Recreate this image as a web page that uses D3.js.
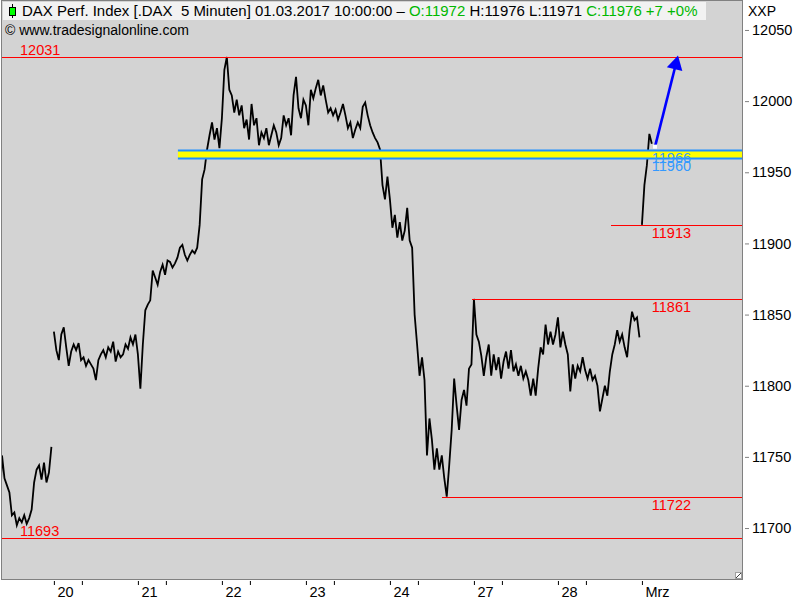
<!DOCTYPE html>
<html><head><meta charset="utf-8">
<script src="https://cdn.jsdelivr.net/npm/d3@7"></script>
<style>
body{margin:0;background:#fff}
svg{display:block}
text{font-family:"Liberation Sans",Arial,sans-serif;}
</style>
</head><body>
<svg id="c" width="800" height="600"></svg>
<script>
// ---------- data ----------
const dayLabels = ['17','20','21','22','23','24','27','28','Mrz'];
const slotsPerDay = 34;              // 15-minute samples, 9:00 - 17:30
const firstSample = [12,0,0,0,0,0,0,0,0];
const p17 = [11706,11751,11735,11730,11725,11709,11711,11702,11707,11704,11709,11703,11707,11713,11732,11741,11744,11734,11746,11732,11739,11757];
const p20 = [11838,11825,11818,11836,11841,11827,11814,11824,11829,11825,11830,11818,11820,11814,11818,11815,11812,11804,11818,11822,11825,11820,11827,11824,11831,11817,11824,11820,11822,11829,11826,11834,11829,11836];
const p21 = [11822,11798,11829,11853,11857,11860,11881,11876,11871,11880,11885,11878,11888,11887,11883,11886,11890,11897,11899,11892,11888,11892,11895,11893,11897,11913,11945,11952,11966,11976,11985,11973,11981,11967];
const p22 = [11988,12022,12031,12008,12004,11992,12001,11990,11997,11981,11987,11973,11998,11983,11988,11969,11978,11974,11981,11969,11976,11983,11978,11969,11974,11990,11983,11988,11976,12004,12017,11995,11988,12001];
const p23 = [11997,11983,12008,12002,12009,12015,12004,12011,12001,11992,11995,11990,11994,11987,11992,11998,11990,11981,11985,11974,11980,11985,11981,11996,11999,11990,11983,11978,11974,11971,11966,11941,11931,11947];
const p24 = [11931,11911,11920,11904,11915,11902,11909,11925,11902,11897,11850,11829,11807,11820,11804,11751,11777,11762,11741,11756,11741,11751,11735,11722,11744,11769,11805,11786,11769,11790,11797,11786,11812,11815];
const p27 = [11861,11836,11831,11821,11807,11820,11829,11807,11822,11811,11820,11805,11817,11824,11812,11825,11810,11815,11807,11814,11805,11810,11804,11793,11805,11793,11812,11827,11822,11843,11829,11838,11829,11836];
const p28 = [11848,11827,11838,11829,11822,11796,11815,11805,11814,11810,11820,11811,11805,11812,11804,11807,11800,11782,11791,11800,11793,11810,11822,11829,11839,11831,11836,11827,11820,11839,11852,11846,11848,11834];
const pMrz = [11913,11941,11955,11977,11970];
const dayValues = [p17,p20,p21,p22,p23,p24,p27,p28,pMrz];
const lineGroups = [['17'], ['20','21','22','23','24','27','28'], ['Mrz']];

const priceTicks = [11700,11750,11800,11850,11900,11950,12000,12050];
const levelPrices = [12031, 11693, 11913, 11861, 11722];
const levelStartDay = [null, null, '28', '24', '24'];
const levelStartSample = [null, null, 21.5, 33.2, 21];
const levelLabelSide = ['left','left','right','right','right'];
const bandPrices = [11960, 11966];
const bandStart = ['21', 16.2];
const arrowFrom = ['Mrz', 5.3, 11968];
const arrowTo = ['Mrz', 14.6, 12032];
const minorTickSample = 11.33;

const headerParts = [
  ['DAX Perf. Index [.DAX  5 Minuten] 01.03.2017 10:00:00 \u2013 ', '#000'],
  ['O:11972', '#00b800'],
  [' H:11976 L:11971 ', '#000'],
  ['C:11976 +7 +0%', '#00b800']
];

// ---------- layout ----------
const svg = d3.select('#c');
const L = 2, R = 742, T = 2, B = 579;
const slotOf = (day, j) => (dayLabels.indexOf(day) - 1) * slotsPerDay + j;
const x = d3.scaleLinear().domain([-21, 278.5]).range([L, R]);
const y = d3.scaleLinear().domain([11693, 12031]).range([538, 57]);

svg.append('rect').attr('x',0).attr('y',0).attr('width',800).attr('height',600).attr('fill','#fff');
svg.append('rect').attr('x',L).attr('y',T-1).attr('width',R-L).attr('height',B-T+1).attr('fill','#d3d3d3');

svg.append('defs').append('clipPath').attr('id','clip')
  .append('rect').attr('x',L).attr('y',T).attr('width',R-L).attr('height',B-T);
const plot = svg.append('g').attr('clip-path','url(#clip)');

// price line
const line = d3.line().x(d => x(d[0])).y(d => y(d[1]));
lineGroups.forEach(g => {
  const seg = [];
  g.forEach(d => { const k = dayLabels.indexOf(d);
    dayValues[k].forEach((v,i) => seg.push([slotOf(d, firstSample[k] + i), v])); });
  plot.append('path').attr('d', line(seg))
    .attr('fill','none').attr('stroke','#000').attr('stroke-width',1.8).attr('stroke-linejoin','miter');
});

// level lines
levelPrices.forEach((p,i) => {
  const x0 = levelStartDay[i] ? x(slotOf(levelStartDay[i], levelStartSample[i])) : L;
  const yy = Math.round(y(p)) + 0.5;
  plot.append('line').attr('x1',x0).attr('x2',R).attr('y1',yy).attr('y2',yy)
    .attr('stroke','#ff0000').attr('stroke-width',1).attr('shape-rendering','crispEdges');
});
const lastSlot = slotOf('Mrz', pMrz.length - 1);
levelPrices.forEach((p,i) => {
  const yy = Math.round(y(p));
  const left = levelLabelSide[i] === 'left';
  plot.append('text').attr('x', left ? 20 : x(lastSlot))
    .attr('y', left ? yy - 2 : yy + 13)
    .attr('fill','#ff0000').attr('font-size',14.5).text(p);
});

// band
const bx0 = x(slotOf(bandStart[0], bandStart[1]));
const byTop = Math.round(y(bandPrices[1])), byBot = Math.round(y(bandPrices[0]));
plot.append('rect').attr('x',bx0).attr('y',byTop).attr('width',R-bx0).attr('height',byBot-byTop)
  .attr('fill','#ffff00');
[byTop, byBot].forEach(v => plot.append('line').attr('x1',bx0).attr('x2',R)
  .attr('y1',v+0.5).attr('y2',v+0.5).attr('stroke','#1e90ff').attr('stroke-width',2));
plot.append('text').attr('x', x(lastSlot)).attr('y', byTop + 13).attr('fill','#3399ff')
  .attr('font-size',14.5).text(bandPrices[1]);
plot.append('text').attr('x', x(lastSlot)).attr('y', byBot + 12.5).attr('fill','#3399ff')
  .attr('font-size',14.5).text(bandPrices[0]);

// arrow
const ax0 = x(slotOf(arrowFrom[0], arrowFrom[1])), ay0 = y(arrowFrom[2]);
const ax1 = x(slotOf(arrowTo[0], arrowTo[1])), ay1 = y(arrowTo[2]);
const len = Math.hypot(ax1-ax0, ay1-ay0), ux = (ax1-ax0)/len, uy = (ay1-ay0)/len;
const hl = 14, hw = 8;
const bcx = ax1 - hl*ux, bcy = ay1 - hl*uy;
plot.append('line').attr('x1',ax0).attr('y1',ay0).attr('x2',bcx+2*ux).attr('y2',bcy+2*uy)
  .attr('stroke','#0000ff').attr('stroke-width',2.6);
plot.append('path').attr('d', `M${ax1},${ay1}L${bcx - hw*uy},${bcy + hw*ux}L${bcx + hw*uy},${bcy - hw*ux}Z`)
  .attr('fill','#0000ff');
plot.append('rect').attr('x',ax0-2).attr('y',ay0-2).attr('width',4).attr('height',4).attr('fill','#fff');

// header
svg.append('rect').attr('x',L+1).attr('y',T).attr('width',703).attr('height',18).attr('fill','#f2f2f2');
svg.append('line').attr('x1',12.5).attr('x2',12.5).attr('y1',4).attr('y2',18).attr('stroke','#000');
svg.append('rect').attr('x',9.5).attr('y',7.5).attr('width',6).attr('height',8).attr('fill','#00ff00').attr('stroke','#000');
const ht = svg.append('text').attr('x',22).attr('y',16).attr('font-size',14).style('white-space','pre');
headerParts.forEach(h => ht.append('tspan').attr('fill',h[1]).text(h[0]));
const hw0 = ht.node().getComputedTextLength();
ht.attr('font-size', 14 * 676 / hw0);
svg.append('text').attr('x',5).attr('y',35).attr('font-size',14).attr('fill','#000')
  .text('\u00a9 www.tradesignalonline.com');

// borders
svg.append('rect').attr('x',L-0.5).attr('y',T-1.5).attr('width',R-L+1).attr('height',B-T+2)
  .attr('fill','none').attr('stroke','#808080').attr('stroke-width',1);
// corner icon
svg.append('rect').attr('x',735.5).attr('y',572.5).attr('width',6).attr('height',6).attr('fill','#fff').attr('stroke','#a0a0a0');
svg.append('line').attr('x1',736).attr('y1',578).attr('x2',741).attr('y2',573).attr('stroke','#404040');

// right axis
svg.append('text').attr('x',748).attr('y',16).attr('font-size',14).text('XXP');
const ya = svg.append('g').attr('transform',`translate(${R+3},0)`)
  .call(d3.axisRight(y).tickValues(priceTicks).tickSize(4).tickPadding(3).tickFormat(d3.format('d')));
ya.select('.domain').remove();
ya.selectAll('line').attr('stroke','#808080');
ya.selectAll('text').attr('font-size',14.5).attr('font-family','"Liberation Sans",Arial,sans-serif').attr('fill','#000');

// bottom axis
const majorSlots = dayLabels.slice(1).map(d => slotOf(d, 0));
const minorSlots = dayLabels.slice(1, -1).map(d => slotOf(d, minorTickSample));
const xa = svg.append('g').attr('transform',`translate(0,${B+2})`)
  .call(d3.axisBottom(x).tickValues(majorSlots).tickSize(4)
    .tickFormat((d,i) => dayLabels[i+1]));
xa.select('.domain').remove();
xa.selectAll('line').attr('stroke','#000');
xa.selectAll('text').attr('text-anchor','start').attr('x',3).attr('y',16).attr('dy',0)
  .attr('font-size',14.5).attr('font-family','"Liberation Sans",Arial,sans-serif').attr('fill','#000');
const xm = svg.append('g').attr('transform',`translate(0,${B+2})`)
  .call(d3.axisBottom(x).tickValues(minorSlots).tickSize(4).tickFormat(''));
xm.select('.domain').remove();
xm.selectAll('line').attr('stroke','#000');
</script>
</body></html>
